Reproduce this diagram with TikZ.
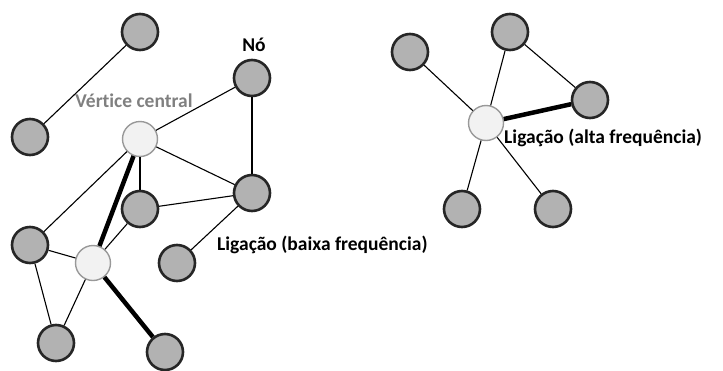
\documentclass[tikz,border=0pt]{standalone}
\usepackage{fontspec}
\setmainfont[Ligatures=NoCommon]{Carlito}
\begin{document}
\begin{tikzpicture}[x=1pt,y=-1pt,
  vert/.style={circle,draw=black!85,line width=2.6pt,fill=black!30,minimum size=36pt,inner sep=0pt},
  hub/.style={circle,draw=black!40,line width=1.4pt,fill=black!5,minimum size=35pt,inner sep=0pt},
  thin/.style={line width=1.1pt,black},
  strong/.style={line width=4.5pt,black},
  lbl/.style={font=\fontsize{19.5}{22}\selectfont\bfseries,inner sep=0pt}]
\useasboundingbox (0,0) rectangle (723,370);
% left network
\node[vert] (a) at (140,32) {};
\node[vert] (b) at (30,137) {};
\node[vert] (n) at (252,78) {};
\node[hub]  (c) at (140,139) {};
\node[vert] (d) at (252,193) {};
\node[vert] (e) at (140,209) {};
\node[vert] (f) at (30,245) {};
\node[hub]  (g) at (93,263) {};
\node[vert] (h) at (177,263) {};
\node[vert] (i) at (56,343) {};
\node[vert] (j) at (165,352) {};
% right network
\node[vert] (k) at (410,52) {};
\node[vert] (l) at (510,32) {};
\node[vert] (m) at (590,100) {};
\node[hub]  (c2) at (486,123) {};
\node[vert] (p) at (462,209) {};
\node[vert] (q) at (553,209) {};
% labels
\node[lbl,text=black!50] (vc) at (134,101) {Vértice central};
\node[lbl] (no) at (254,45) {Nó};
\node[lbl,anchor=west] (lb) at (217,245) {Ligação (baixa frequência)};
\node[lbl,anchor=west] (la) at (504,138) {Ligação (alta frequência)};
% edges
\draw[thin] (a) -- (b);
\draw[thin] (c) -- (n);
\draw[thin] (n) -- (d);
\draw[thin] (c) -- (d);
\draw[thin] (c) -- (e);
\draw[thin] (e) -- (d);
\draw[thin] (d) -- (h);
\draw[thin] (c) -- (f);
\draw[strong] (c) -- (g);
\draw[thin] (g) -- (e);
\draw[thin] (g) -- (f);
\draw[thin] (f) -- (i);
\draw[thin] (i) -- (g);
\draw[strong] (g) -- (j);
\draw[thin] (k) -- (c2);
\draw[thin] (l) -- (c2);
\draw[thin] (l) -- (m);
\draw[strong] (c2) -- (m);
\draw[thin] (c2) -- (p);
\draw[thin] (c2) -- (q);
\end{tikzpicture}
\end{document}
